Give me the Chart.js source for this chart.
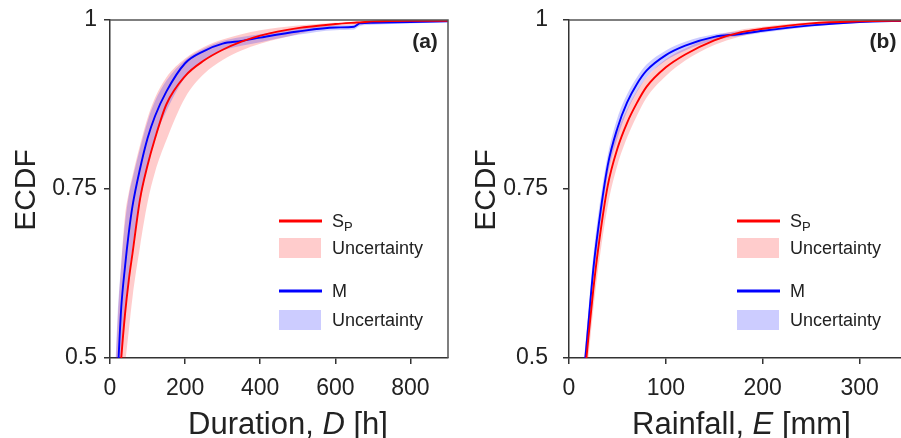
<!DOCTYPE html>
<html lang="en">
<head>
<meta charset="UTF-8">
<title>ECDF</title>
<script src="https://cdn.jsdelivr.net/npm/chart.js"></script>
<style>
  body { margin:0; width:901px; height:438px; overflow:hidden; background:#fff; position:relative; }
  canvas { position:absolute; top:0; }
  #chartA { left:0; }
  #chartB { left:460px; }
</style>
</head>
<body>
<canvas id="chartA" width="460" height="438"></canvas>
<canvas id="chartB" width="460" height="438"></canvas>
<script>
// panel (a): duration D [h]
const durX     = [10, 20, 30, 40, 50, 60, 80, 100, 120, 150, 200, 250, 300, 350, 400, 500, 600, 650, 665, 700, 800, 900];
const spDur    = [0.33, 0.42, 0.5, 0.565, 0.615, 0.655, 0.735, 0.785, 0.825, 0.875, 0.917, 0.94, 0.956, 0.968, 0.977, 0.988, 0.994, 0.996, 0.9965, 0.998, 0.999, 0.999];
const spDurHi  = [0.42, 0.55, 0.64, 0.71, 0.745, 0.77, 0.815, 0.855, 0.885, 0.915, 0.943, 0.96, 0.971, 0.979, 0.985, 0.992, 0.996, 0.997, 0.998, 0.999, 1, 1];
const spDurLo  = [0.3, 0.38, 0.44, 0.49, 0.54, 0.59, 0.665, 0.73, 0.775, 0.822, 0.885, 0.92, 0.941, 0.955, 0.965, 0.979, 0.991, 0.993, 0.994, 0.996, 0.998, 0.999];
const mDur     = [0.38, 0.47, 0.575, 0.635, 0.685, 0.725, 0.78, 0.825, 0.858, 0.894, 0.936, 0.954, 0.965, 0.969, 0.974, 0.983, 0.989, 0.99, 0.995, 0.996, 0.997, 0.998];
const mDurHi   = [0.43, 0.56, 0.64, 0.7, 0.74, 0.765, 0.81, 0.85, 0.88, 0.91, 0.941, 0.958, 0.969, 0.975, 0.979, 0.987, 0.992, 0.993, 0.997, 0.998, 0.999, 0.999];
const mDurLo   = [0.33, 0.42, 0.5, 0.57, 0.62, 0.665, 0.73, 0.785, 0.825, 0.865, 0.915, 0.94, 0.955, 0.962, 0.967, 0.978, 0.985, 0.986, 0.991, 0.993, 0.995, 0.997];
const durTicks = [0, 200, 400, 600, 800];

// panel (b): rainfall E [mm]
const rainX     = [5, 10, 15, 20, 25, 30, 40, 50, 60, 70, 80, 100, 120, 150, 175, 200, 250, 300, 350];
const spRain    = [0.28, 0.38, 0.455, 0.53, 0.6, 0.66, 0.755, 0.81, 0.848, 0.877, 0.901, 0.93, 0.949, 0.97, 0.981, 0.987, 0.995, 0.998, 0.999];
const spRainHi  = [0.31, 0.41, 0.49, 0.565, 0.635, 0.695, 0.78, 0.835, 0.868, 0.895, 0.915, 0.942, 0.958, 0.976, 0.985, 0.99, 0.997, 0.999, 1];
const spRainLo  = [0.25, 0.35, 0.425, 0.5, 0.57, 0.63, 0.725, 0.785, 0.826, 0.858, 0.885, 0.917, 0.94, 0.963, 0.975, 0.983, 0.993, 0.997, 0.999];
const mRain     = [0.3, 0.4, 0.47, 0.55, 0.63, 0.69, 0.785, 0.84, 0.878, 0.905, 0.925, 0.948, 0.962, 0.975, 0.979, 0.984, 0.992, 0.997, 0.999];
const mRainHi   = [0.32, 0.42, 0.49, 0.57, 0.65, 0.71, 0.8, 0.855, 0.89, 0.915, 0.934, 0.955, 0.968, 0.979, 0.983, 0.987, 0.994, 0.998, 0.999];
const mRainLo   = [0.28, 0.38, 0.45, 0.53, 0.61, 0.67, 0.77, 0.825, 0.865, 0.893, 0.915, 0.94, 0.955, 0.97, 0.976, 0.981, 0.99, 0.996, 0.998];
const rainTicks = [0, 100, 200, 300];

const yTicks = [0.5, 0.75, 1];

const RED = '#ff0000', BLUE = '#0000ff';
const PINK = 'rgba(255,0,0,0.2)', LILAC = 'rgba(0,0,255,0.2)';
const FONT = "'Liberation Sans', Arial, sans-serif";

function pts(xs, ys) { return xs.map((x, i) => ({x: x, y: ys[i]})) }

function makeSets(xs, sp, spHi, spLo, m, mHi, mLo) {
    const line = {pointRadius: 0, borderWidth: 1.9, fill: false, cubicInterpolationMode: 'monotone'};
    const edge = {pointRadius: 0, borderWidth: 0, borderColor: 'transparent', cubicInterpolationMode: 'monotone'};
    return [
        Object.assign({label: 'Sp', data: pts(xs, sp), borderColor: RED, order: 1}, line),
        Object.assign({label: 'M', data: pts(xs, m), borderColor: BLUE, order: 2}, line),
        Object.assign({label: 'M hi', data: pts(xs, mHi), fill: false, order: 3}, edge),
        Object.assign({label: 'M lo', data: pts(xs, mLo), fill: '-1', backgroundColor: LILAC, order: 3}, edge),
        Object.assign({label: 'Sp hi', data: pts(xs, spHi), fill: false, order: 4}, edge),
        Object.assign({label: 'Sp lo', data: pts(xs, spLo), fill: '-1', backgroundColor: PINK, order: 4}, edge)
    ]
}

// titles, frame, legend and panel letter
function decor(cfg) {
    return {
        id: 'decor',
        afterDraw(chart) {
            const ctx = chart.ctx, a = chart.chartArea;
            ctx.save();
            ctx.strokeStyle = '#555';
            ctx.lineWidth = 1.5;
            ctx.beginPath();
            ctx.moveTo(a.left, a.top); ctx.lineTo(a.right, a.top); ctx.lineTo(a.right, a.bottom);
            ctx.stroke();

            ctx.fillStyle = '#222';
            // y title
            ctx.save();
            ctx.translate(cfg.yTitleX, 190);
            ctx.rotate(-Math.PI / 2);
            ctx.font = '30px ' + FONT;
            ctx.textAlign = 'center';
            ctx.textBaseline = 'middle';
            ctx.fillText('ECDF', 0, 0);
            ctx.restore();

            // x title with italic symbol
            ctx.textBaseline = 'alphabetic';
            ctx.textAlign = 'left';
            let x = cfg.xTitleX;
            ctx.font = '31px ' + FONT;
            ctx.fillText(cfg.xTitle[0], x, 434); x += ctx.measureText(cfg.xTitle[0]).width;
            ctx.font = 'italic 31px ' + FONT;
            ctx.fillText(cfg.xTitle[1], x, 434); x += ctx.measureText(cfg.xTitle[1]).width;
            ctx.font = '31px ' + FONT;
            ctx.fillText(cfg.xTitle[2], x, 434);

            // panel letter
            ctx.font = 'bold 21px ' + FONT;
            ctx.textAlign = 'center';
            ctx.textBaseline = 'middle';
            ctx.fillText(cfg.letter, cfg.letterX, 42);

            // legend
            const lx = cfg.legendX, tx = lx + 53;
            ctx.lineWidth = 3;
            ctx.strokeStyle = RED;
            ctx.beginPath(); ctx.moveTo(lx, 221); ctx.lineTo(lx + 43, 221); ctx.stroke();
            ctx.strokeStyle = BLUE;
            ctx.beginPath(); ctx.moveTo(lx, 291); ctx.lineTo(lx + 43, 291); ctx.stroke();
            ctx.fillStyle = PINK;
            ctx.fillRect(lx, 238, 42, 20);
            ctx.fillStyle = LILAC;
            ctx.fillRect(lx, 310, 42, 20);

            ctx.fillStyle = '#222';
            ctx.textAlign = 'left';
            ctx.textBaseline = 'alphabetic';
            ctx.font = '18px ' + FONT;
            ctx.fillText('S', tx, 227);
            const sw = ctx.measureText('S').width;
            ctx.font = '13px ' + FONT;
            ctx.fillText('P', tx + sw, 231);
            ctx.font = '18px ' + FONT;
            ctx.fillText('Uncertainty', tx, 254);
            ctx.fillText('M', tx, 297);
            ctx.fillText('Uncertainty', tx, 326);
            ctx.restore();
        }
    }
}

function makeChart(id, sets, xMax, xTicks, yWidth, yPad, padRight, cfg) {
    return new Chart(document.getElementById(id), {
        type: 'line',
        data: {datasets: sets},
        options: {
            responsive: false,
            animation: false,
            devicePixelRatio: 1,
            layout: {padding: {top: 20, right: padRight, left: 0, bottom: 0}},
            plugins: {legend: {display: false}, tooltip: {enabled: false}},
            scales: {
                x: {
                    type: 'linear', min: 0, max: xMax,
                    afterBuildTicks: ax => { ax.ticks = xTicks.map(v => ({value: v})) },
                    afterFit: ax => { ax.height = 80 },
                    ticks: {font: {family: FONT, size: 23}, color: '#222', padding: 11, maxRotation: 0,
                            callback: v => String(v)},
                    grid: {drawOnChartArea: false, tickLength: 6, color: '#333', lineWidth: 1.5},
                    border: {color: '#333', width: 1.5}
                },
                y: {
                    type: 'linear', min: 0.5, max: 1,
                    afterBuildTicks: ax => { ax.ticks = yTicks.map(v => ({value: v})) },
                    // fixed width; drop the label overhang so both plot boxes start at y = 20
                    afterFit: ax => { ax.width = yWidth; ax.paddingTop = 0; ax.paddingBottom = 0 },
                    ticks: {font: {family: FONT, size: 23}, color: '#222', padding: yPad,
                            callback: v => String(v)},
                    grid: {drawOnChartArea: false, tickLength: 6, color: '#333', lineWidth: 1.5},
                    border: {color: '#333', width: 1.5}
                }
            }
        },
        plugins: [decor(cfg)]
    })
}

makeChart('chartA', makeSets(durX, spDur, spDurHi, spDurLo, mDur, mDurHi, mDurLo),
    900, durTicks, 110, 7, 12,
    {xTitle: ['Duration, ', 'D', ' [h]'], xTitleX: 188, yTitleX: 27, letter: '(a)', letterX: 425, legendX: 279});

makeChart('chartB', makeSets(rainX, spRain, spRainHi, spRainLo, mRain, mRainHi, mRainLo),
    350, rainTicks, 109, 15, 12,
    {xTitle: ['Rainfall, ', 'E', ' [mm]'], xTitleX: 172, yTitleX: 27, letter: '(b)', letterX: 423, legendX: 277});
</script>
</body>
</html>
